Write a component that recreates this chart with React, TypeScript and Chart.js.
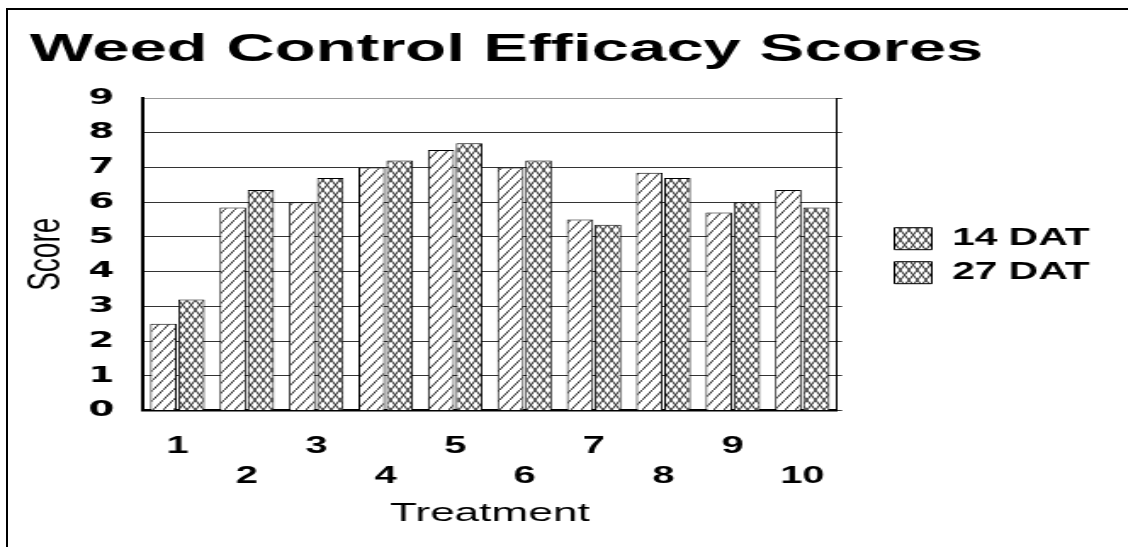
import React, { useEffect, useRef } from 'react';
import { Chart, registerables } from 'chart.js';

Chart.register(...registerables);

// ---- data ----
const categories = ['1', '2', '3', '4', '5', '6', '7', '8', '9', '10'];
const seriesNames = ['14 DAT', '27 DAT'];
const dat14 = [2.5, 5.85, 6.0, 7.0, 7.5, 7.0, 5.5, 6.85, 5.7, 6.35];
const dat27 = [3.2, 6.35, 6.7, 7.2, 7.7, 7.2, 5.35, 6.7, 6.0, 5.85];
const yMin = 0;
const yMax = 9;
const yStep = 1;
const titleText = 'Weed Control Efficacy Scores';
const xTitle = 'Treatment';
const yTitle = 'Score';

// logical canvas size (horizontally stretched to the page width)
const LW = 664;
const LH = 547;
const SX = 1128 / LW;
const LEGEND_W = 136.7;
const LEGEND_SHIFT_Y = -9;

function makeDiagPattern(): CanvasPattern | string {
  const t = document.createElement('canvas');
  t.width = 6;
  t.height = 10;
  const c = t.getContext('2d');
  if (!c) return '#fff';
  c.fillStyle = '#fff';
  c.fillRect(0, 0, 6, 10);
  c.strokeStyle = '#222';
  c.lineWidth = 1;
  c.beginPath();
  c.moveTo(-6, 20);
  c.lineTo(12, -10);
  c.stroke();
  const p = c.createPattern(t, 'repeat');
  return p || '#fff';
}

function makeCrossPattern(): CanvasPattern | string {
  const t = document.createElement('canvas');
  t.width = 5;
  t.height = 10;
  const c = t.getContext('2d');
  if (!c) return '#fff';
  c.fillStyle = '#fff';
  c.fillRect(0, 0, 5, 10);
  c.strokeStyle = '#222';
  c.lineWidth = 1;
  c.beginPath();
  c.moveTo(-5, -10);
  c.lineTo(10, 20);
  c.moveTo(-5, 20);
  c.lineTo(10, -10);
  c.stroke();
  const p = c.createPattern(t, 'repeat');
  return p || '#fff';
}

// keeps the legend box at a fixed width (Chart.js caps side boxes otherwise)
const legendWidthPlugin = {
  id: 'legendWidth',
  beforeLayout(chart: any) {
    const lg = chart.legend;
    if (lg && !lg.__fixedW) {
      const orig = lg.fit.bind(lg);
      lg.fit = function () {
        orig();
        this.width = LEGEND_W;
      };
      lg.__fixedW = true;
    }
  },
  afterLayout(chart: any) {
    const lg = chart.legend;
    if (lg) {
      lg.top += LEGEND_SHIFT_Y;
      lg.bottom += LEGEND_SHIFT_Y;
    }
  },
};

export default function App() {
  const ref = useRef<HTMLCanvasElement>(null);

  useEffect(() => {
    const canvas = ref.current;
    if (!canvas) return;
    const diag = makeDiagPattern();
    const cross = makeCrossPattern();
    const fam = "'Liberation Sans', Arial, Helvetica, sans-serif";

    const chart = new Chart(canvas, {
      type: 'bar',
      data: {
        labels: categories,
        datasets: [
          {
            label: seriesNames[0],
            data: dat14,
            backgroundColor: diag as any,
            borderColor: '#000',
            borderWidth: 1,
            categoryPercentage: 0.807,
            barPercentage: 0.945,
            yAxisID: 'y',
          },
          {
            label: seriesNames[1],
            data: dat27,
            backgroundColor: cross as any,
            borderColor: '#000',
            borderWidth: 1,
            categoryPercentage: 0.807,
            barPercentage: 0.945,
            yAxisID: 'y',
          },
        ],
      },
      plugins: [legendWidthPlugin],
      options: {
        responsive: false,
        animation: false,
        devicePixelRatio: 1,
        layout: { padding: { left: 17.6, right: 10.8, top: 0, bottom: 17.6 } },
        plugins: {
          title: {
            display: true,
            text: titleText,
            align: 'start',
            color: '#000',
            font: { family: fam, size: 39.5, weight: 'bold', lineHeight: 1.2 },
            padding: { top: 26, bottom: 24.6 },
          },
          legend: {
            display: true,
            position: 'right',
            labels: {
              color: '#000',
              font: { family: fam, size: 24, weight: 'bold' },
              boxWidth: 22,
              boxHeight: 22,
              padding: 10,
              generateLabels: (ch: any) =>
                ch.data.datasets.map((ds: any, i: number) => ({
                  text: ds.label,
                  fillStyle: cross,
                  strokeStyle: '#000',
                  lineWidth: 1,
                  hidden: false,
                  datasetIndex: i,
                  fontColor: '#000',
                })),
            },
          },
          tooltip: { enabled: false },
        },
        scales: {
          x: {
            type: 'category',
            grid: { display: true, drawOnChartArea: false, drawTicks: false },
            border: { display: true, color: '#000', width: 2.5 },
            ticks: {
              color: '#000',
              autoSkip: false,
              maxRotation: 0,
              minRotation: 0,
              padding: 21,
              font: {
                family: fam,
                size: 23.5,
                weight: 'bold',
                lineHeight: 1.276,
              },
              callback: (_v: any, i: number) =>
                i % 2 === 0 ? [categories[i], ''] : ['', categories[i]],
            },
            title: {
              display: true,
              text: xTitle,
              color: '#000',
              font: { family: fam, size: 26, lineHeight: 1.2 },
              padding: { top: 0, bottom: 0 },
            },
            afterFit: (s: any) => {
              s.height = 118.8;
            },
          },
          y: {
            type: 'linear',
            position: 'left',
            min: yMin,
            max: yMax,
            grid: {
              drawTicks: false,
              lineWidth: 1,
              color: (c: any) => (c.tick && c.tick.value === yMax ? '#999' : '#333'),
            },
            border: { display: true, color: '#000', width: 2 },
            ticks: {
              stepSize: yStep,
              color: '#000',
              padding: 16.6,
              font: { family: "'DejaVu Sans', sans-serif", size: 22, weight: 'bold' },
            },
            title: {
              display: true,
              text: yTitle,
              color: '#000',
              font: { family: fam, size: 28, lineHeight: 0.68 },
              padding: { top: 0, bottom: 0 },
            },
            afterFit: (s: any) => {
              s.width = 66.4;
            },
          },
          y2: {
            type: 'linear',
            position: 'right',
            min: yMin,
            max: yMax,
            grid: {
              drawOnChartArea: false,
              drawTicks: true,
              tickLength: 3,
              color: '#333',
            },
            border: { display: true, color: '#000', width: 1 },
            ticks: { stepSize: yStep, display: false },
            afterFit: (s: any) => {
              s.width = 23.8;
            },
          },
        },
      } as any,
    });
    return () => chart.destroy();
  }, []);

  return (
    <div
      style={{
        position: 'fixed',
        left: 0,
        top: 0,
        width: 1128,
        height: 547,
        overflow: 'hidden',
        background: '#fff',
      }}
    >
      <div
        style={{
          position: 'absolute',
          left: 6,
          top: 8,
          width: 1400,
          height: 900,
          borderTop: '2px solid #000',
          borderLeft: '2px solid #000',
        }}
      />
      <canvas
        ref={ref}
        width={LW}
        height={LH}
        style={{
          position: 'absolute',
          left: 0,
          top: 0,
          width: LW + 'px',
          height: LH + 'px',
          transform: `scaleX(${SX})`,
          transformOrigin: '0 0',
        }}
      />
    </div>
  );
}
